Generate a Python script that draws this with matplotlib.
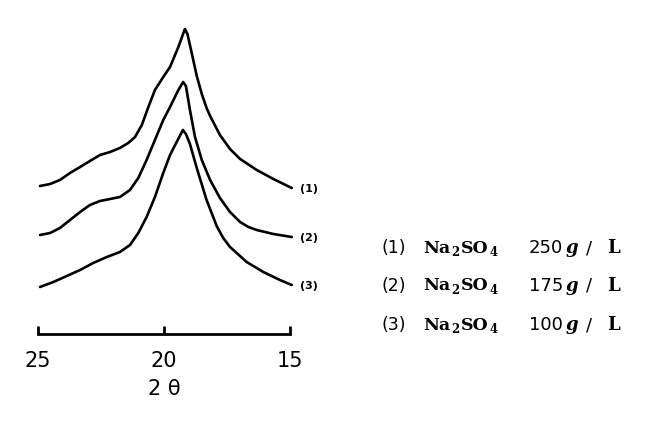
import matplotlib.pyplot as plt

# 2θ (deg) и относительная интенсивность для трёх образцов
theta1 = [24.92, 24.52, 24.13, 23.73, 23.33, 22.94, 22.54, 22.14, 21.75, 21.42, 21.15,
          20.88, 20.62, 20.36, 20.03, 19.76, 19.43, 19.17, 19.07, 18.90, 18.70, 18.50,
          18.31, 18.17, 17.78, 17.38, 16.98, 16.32, 15.66, 14.93]
inten1 = [148, 150, 154, 161, 167, 173, 179, 182, 186, 191, 197,
          209, 227, 244, 257, 267, 287, 305, 300, 281, 258, 240,
          226, 218, 199, 185, 175, 164, 155, 146]

theta2 = [24.92, 24.52, 24.13, 23.73, 23.33, 22.94, 22.54, 22.14, 21.75, 21.35, 21.02,
          20.69, 20.36, 20.03, 19.76, 19.43, 19.24, 19.13, 18.97, 18.77, 18.50, 18.17,
          17.78, 17.38, 16.98, 16.65, 16.32, 15.66, 14.93]
inten2 = [99, 101, 106, 114, 122, 129, 133, 135, 137, 144, 156,
          174, 194, 214, 227, 244, 252, 248, 224, 197, 174, 154,
          136, 122, 112, 107, 104, 100, 97]

theta3 = [24.92, 24.39, 23.86, 23.33, 22.81, 22.27, 21.75, 21.35, 21.02, 20.69, 20.36,
          20.03, 19.76, 19.56, 19.25, 19.13, 18.97, 18.70, 18.31, 17.91, 17.65, 17.38,
          16.72, 16.06, 15.40, 14.93]
inten3 = [47, 52, 58, 64, 71, 77, 82, 89, 101, 117, 137,
          161, 179, 189, 204, 200, 190, 166, 134, 108, 96, 87,
          72, 62, 54, 49]

curve_labels = ['(1)', '(2)', '(3)']
concentrations = ['250', '175', '100']
ticks = [25, 20, 15]

W, H = 652, 423
fig = plt.figure(figsize=(W / 100, H / 100), dpi=100)
ax = fig.add_axes([38 / W, 1 - 334 / H, (290 - 38) / W, (334 - 20) / H])

for th, yy in [(theta1, inten1), (theta2, inten2), (theta3, inten3)]:
    ax.plot(th, yy, color='black', lw=1.9, solid_capstyle='round',
            solid_joinstyle='round', clip_on=False)

# подписи кривых справа
for lab, th, yy in zip(curve_labels, [theta1, theta2, theta3], [inten1, inten2, inten3]):
    ax.annotate(lab, (th[-1], yy[-1]), xytext=(6, -1), textcoords='offset points',
                fontsize=8, fontweight='bold', va='center', ha='left',
                annotation_clip=False)

ax.set_xlim(25, 15)
ax.set_ylim(0, 314)
for s in ['top', 'left', 'right']:
    ax.spines[s].set_visible(False)
ax.spines['bottom'].set_linewidth(2)
ax.set_yticks([])
ax.set_xticks(ticks)
ax.tick_params(axis='x', direction='in', length=6, width=2, pad=12, labelsize=15)
ax.set_xlabel('2 θ', fontsize=15, labelpad=6)

# легенда
rows_y = [248, 286, 325]
for lab, c, y in zip(curve_labels, concentrations, rows_y):
    yf = 1 - y / H
    sub = 1 - (y + 4) / H
    fig.text(382 / W, yf, lab, fontsize=12.5, va='center', ha='left', family='DejaVu Sans')
    fig.text(423 / W, yf, 'Na', fontsize=12.5, va='center', ha='left',
             family='DejaVu Serif', fontweight='bold')
    fig.text(451 / W, sub, '2', fontsize=8.5, va='center', ha='left',
             family='DejaVu Serif', fontweight='bold')
    fig.text(461 / W, yf, 'SO', fontsize=12.5, va='center', ha='left',
             family='DejaVu Serif', fontweight='bold')
    fig.text(490 / W, sub, '4', fontsize=8.5, va='center', ha='left',
             family='DejaVu Serif', fontweight='bold')
    fig.text(563 / W, yf, c, fontsize=13, va='center', ha='right', family='DejaVu Sans')
    fig.text(566 / W, yf, 'g', fontsize=13, va='center', ha='left',
             family='DejaVu Serif', style='italic', fontweight='bold')
    fig.text(586 / W, yf, '/', fontsize=13, va='center', ha='left', family='DejaVu Sans')
    fig.text(607 / W, yf, 'L', fontsize=13, va='center', ha='left',
             family='DejaVu Serif', fontweight='bold')

plt.savefig('out.png', dpi=100)
